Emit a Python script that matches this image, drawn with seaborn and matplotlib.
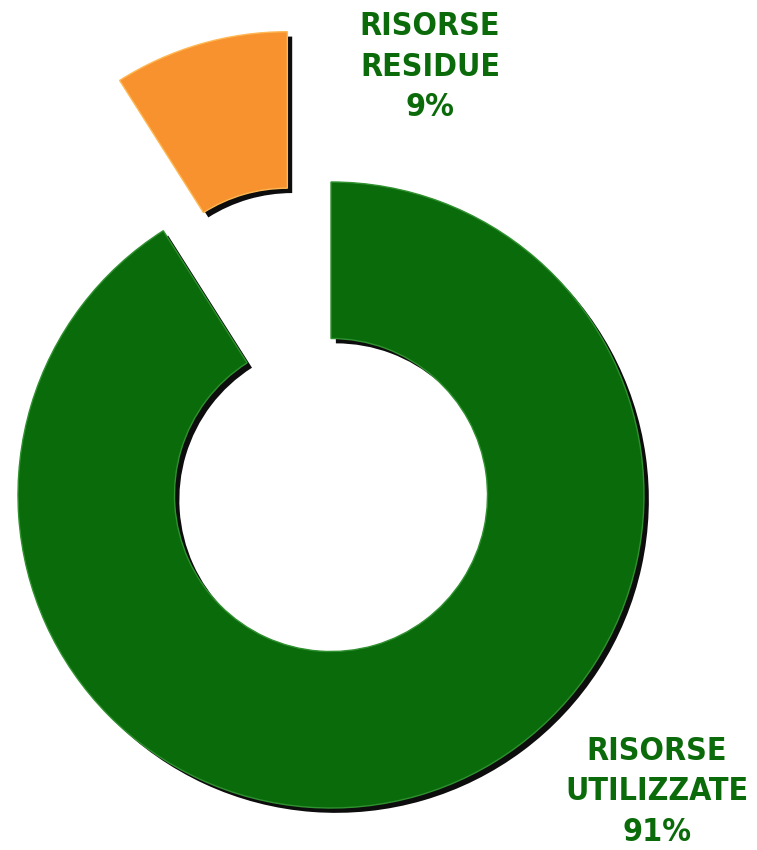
import matplotlib.pyplot as plt
import matplotlib.patheffects as pe
from matplotlib.colors import to_rgb
from matplotlib import font_manager
import seaborn as sns

# data
labels = ['RISORSE\nUTILIZZATE\n91%', 'RISORSE\nRESIDUE\n9%']
values = [91, 9]
colors = ['#0a6b0a', '#f7922e']
explode = [0, 0.5]

sns.set_theme(style='white')
names = {f.name for f in font_manager.fontManager.ttflist}
narrow = [n for n in ['Liberation Sans Narrow', 'Arial Narrow'] if n in names]
plt.rcParams['font.family'] = narrow + ['DejaVu Sans']
stretch = 'normal' if narrow else 'condensed'

fig = plt.figure(figsize=(7.57, 8.5), dpi=100)
ax = fig.add_axes([0, 0, 1, 1])

# reference layout in pixels: centre (331, 495), radius 313
R = 313.0
cx, cy = 331.0, 495.0

wedges, _ = ax.pie(values, colors=colors, explode=explode, startangle=90,
                   counterclock=False, radius=1,
                   wedgeprops=dict(width=0.5, linewidth=0))
ax.set_xlim(-cx / R, (757 - cx) / R)
ax.set_ylim(-(850 - cy) / R, cy / R)
ax.set_aspect('equal')
ax.axis('off')

for w, c in zip(wedges, colors):
    hl = tuple(min(1, v + 0.15) for v in to_rgb(c))
    w.set_edgecolor(hl)
    w.set_linewidth(1.0)
    w.set_path_effects([
        pe.SimplePatchShadow(offset=(3.5, -3.5), shadow_rgbFace='black', alpha=0.95),
        pe.Normal(),
    ])

txt = dict(ha='center', va='center', color='#0b6b0b', fontsize=23,
           fontweight='bold', fontstretch=stretch, linespacing=1.4,
           transform=fig.transFigure)
fig.text(430 / 757, 1 - 67 / 850, labels[1], **txt)
fig.text(657 / 757, 1 - 792 / 850, labels[0], **txt)

fig.savefig('out.png', dpi=100, facecolor='white')
